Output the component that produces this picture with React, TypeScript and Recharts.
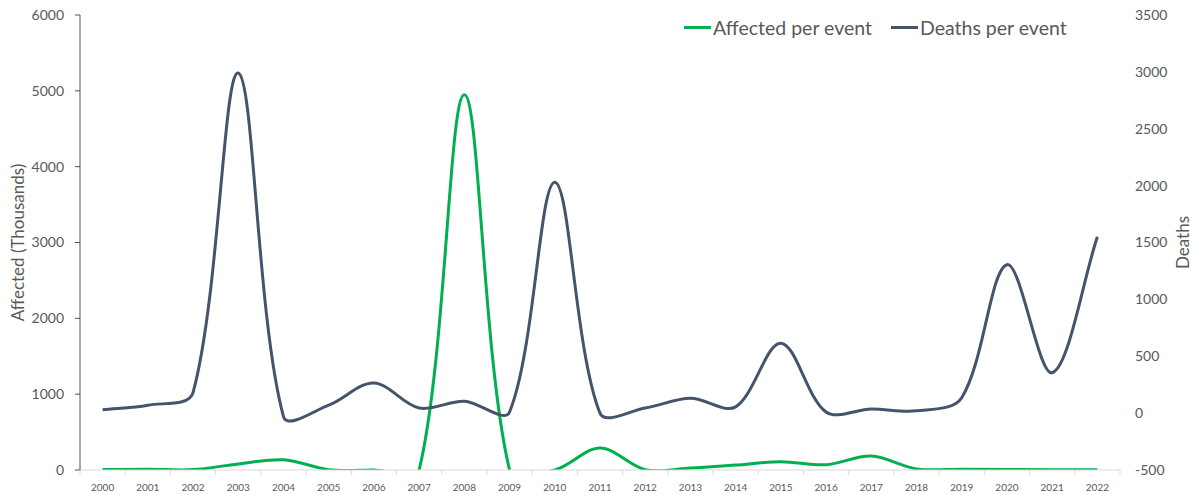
import React from 'react';
import { LineChart, Line, XAxis, YAxis, Legend } from 'recharts';

const years = [
  '2000', '2001', '2002', '2003', '2004', '2005', '2006', '2007', '2008', '2009', '2010', '2011',
  '2012', '2013', '2014', '2015', '2016', '2017', '2018', '2019', '2020', '2021', '2022',
];

// thousands of people affected per event
const affectedPerEvent = [
  5, 10, 5, 80, 135, 5, 0, 0, 4950, 0, 0, 290,
  5, 25, 65, 110, 70, 185, 15, 10, 8, 3, 3,
];

const deathsPerEvent = [
  30, 70, 180, 2990, -30, 70, 265, 45, 105, 10, 2030, 0,
  45, 130, 55, 615, 10, 36, 20, 135, 1305, 355, 1550,
];

const affectedTicks = [0, 1000, 2000, 3000, 4000, 5000, 6000];
const deathTicks = [-500, 0, 500, 1000, 1500, 2000, 2500, 3000, 3500];

const data = years.map((year, i) => ({
  year,
  affected: affectedPerEvent[i],
  deaths: deathsPerEvent[i],
}));

const GREEN = '#00b050';
const SLATE = '#44546a';
const TEXT = '#595959';
const FONT = 'Lato, "Open Sans", sans-serif';

// Excel style smoothing: bezier handles along (next - prev), scaled by the
// pixel length of the neighbouring segments
function excelSmooth(context: any) {
  let pts: number[][] = [];
  const dist = (a: number[], b: number[]) => Math.hypot(b[0] - a[0], b[1] - a[1]);
  return {
    areaStart() {},
    areaEnd() {},
    lineStart() {
      pts = [];
    },
    point(x: number, y: number) {
      pts.push([+x, +y]);
    },
    lineEnd() {
      const n = pts.length;
      if (!n) return;
      context.moveTo(pts[0][0], pts[0][1]);
      if (n === 2) context.lineTo(pts[1][0], pts[1][1]);
      if (n < 3) return;
      for (let i = 0; i < n - 1; i++) {
        const p0 = pts[i - 1] || pts[i];
        const p1 = pts[i];
        const p2 = pts[i + 1];
        const p3 = pts[i + 2] || pts[i + 1];
        const d01 = dist(p0, p1);
        const d12 = dist(p1, p2);
        const d23 = dist(p2, p3);
        const a = d01 + d12 > 0 ? d12 / (d01 + d12) / 3 : 0;
        const b = d12 + d23 > 0 ? d12 / (d12 + d23) / 3 : 0;
        context.bezierCurveTo(
          p1[0] + (p2[0] - p0[0]) * a,
          p1[1] + (p2[1] - p0[1]) * a,
          p2[0] - (p3[0] - p1[0]) * b,
          p2[1] - (p3[1] - p1[1]) * b,
          p2[0],
          p2[1],
        );
      }
    },
  };
}

const PLOT_BOTTOM = 470;
const BAND = 1040 / years.length;

const YearTick = (props: any) => {
  const { x, payload, index } = props;
  return (
    <g>
      <line x1={x - BAND / 2} x2={x - BAND / 2} y1={PLOT_BOTTOM} y2={PLOT_BOTTOM + 5} stroke="#d9d9d9" />
      {index === years.length - 1 && (
        <line x1={x + BAND / 2} x2={x + BAND / 2} y1={PLOT_BOTTOM} y2={PLOT_BOTTOM + 5} stroke="#d9d9d9" />
      )}
      <text x={x} y={PLOT_BOTTOM + 21} textAnchor="middle" fill={TEXT} fontSize={10} fontFamily={FONT}>
        {payload.value}
      </text>
    </g>
  );
};

const LegendContent = ({ payload }: any) => (
  <div style={{ display: 'flex', gap: 19, fontFamily: FONT, fontSize: 19.5, color: TEXT, whiteSpace: 'nowrap' }}>
    {(payload || []).map((p: any) => (
      <div key={p.value} style={{ display: 'flex', alignItems: 'center' }}>
        <span style={{ display: 'inline-block', width: 27, height: 3, background: p.color, marginRight: 2 }} />
        <span>{p.value}</span>
      </div>
    ))}
  </div>
);

export default function App() {
  return (
    <div style={{ position: 'absolute', left: 0, top: 0, width: 1195, height: 495, background: '#fff' }}>
      <LineChart width={1195} height={495} data={data} margin={{ top: 15, right: 0, bottom: 0, left: 0 }}>
        <XAxis
          dataKey="year"
          height={25}
          padding={{ left: BAND / 2, right: BAND / 2 }}
          axisLine={{ stroke: '#d9d9d9' }}
          tickLine={false}
          tick={<YearTick />}
          interval={0}
        />
        <YAxis
          yAxisId="left"
          width={80}
          domain={[0, 6000]}
          ticks={affectedTicks}
          allowDataOverflow
          axisLine={{ stroke: SLATE }}
          tickLine={{ stroke: SLATE }}
          tickSize={5}
          tickMargin={11}
          tick={{ fill: TEXT, fontSize: 14, fontFamily: FONT }}
          label={{
            value: 'Affected (Thousands)',
            angle: -90,
            position: 'insideLeft',
            offset: 18,
            style: { textAnchor: 'middle', fill: TEXT, fontSize: 17, fontFamily: FONT },
          }}
        />
        <YAxis
          yAxisId="right"
          orientation="right"
          width={75}
          domain={[-500, 3500]}
          ticks={deathTicks}
          allowDataOverflow
          axisLine={false}
          tickLine={false}
          tickSize={0}
          tickMargin={15}
          tick={{ fill: TEXT, fontSize: 14, fontFamily: FONT, textAnchor: 'start' }}
          label={{
            value: 'Deaths',
            angle: -90,
            position: 'insideRight',
            offset: 12,
            style: { textAnchor: 'middle', fill: TEXT, fontSize: 17, fontFamily: FONT },
          }}
        />
        <Legend
          verticalAlign="middle"
          layout="horizontal"
          align="center"
          wrapperStyle={{ top: 16, left: 684, width: 'auto' }}
          content={<LegendContent />}
        />
        <Line
          yAxisId="left"
          dataKey="affected"
          name="Affected per event"
          type={excelSmooth as any}
          stroke={GREEN}
          strokeWidth={3}
          dot={false}
          activeDot={false}
          isAnimationActive={false}
        />
        <Line
          yAxisId="right"
          dataKey="deaths"
          name="Deaths per event"
          type={excelSmooth as any}
          stroke={SLATE}
          strokeWidth={3}
          dot={false}
          activeDot={false}
          isAnimationActive={false}
        />
      </LineChart>
    </div>
  );
}
